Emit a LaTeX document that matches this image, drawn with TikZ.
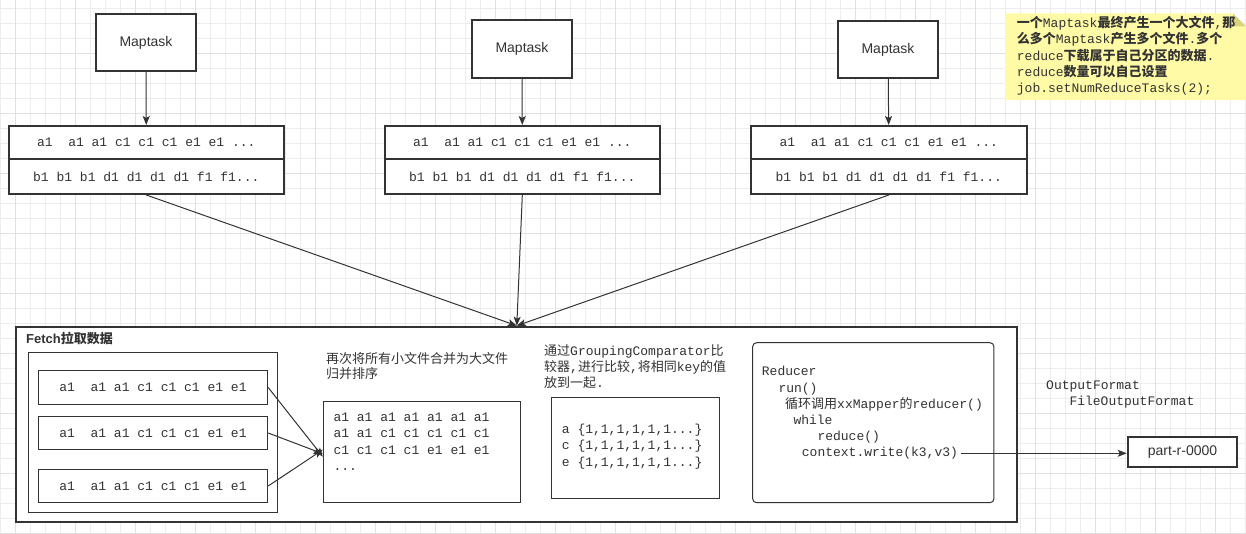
\documentclass[tikz,border=0pt]{standalone}
\usepackage{fontspec}
\setmainfont{Liberation Sans}
\newfontfamily\mono{Liberation Mono}
\newfontfamily\cjk{Noto Sans CJK SC}
\usetikzlibrary{arrows.meta}

\definecolor{linec}{HTML}{333333}
\definecolor{textc}{HTML}{333333}
\definecolor{gridc}{HTML}{EDEDED}
\definecolor{gridm}{HTML}{E0E0E0}
\definecolor{notefill}{HTML}{FFFAA6}
\definecolor{notefold}{HTML}{D9D37E}

\newcommand\zh[1]{{\cjk #1}}
\newcommand\zhb[1]{{\cjk\bfseries #1}}

\tikzset{
  box/.style={draw=linec, fill=white, line width=1pt, inner sep=0pt},
  thickbox/.style={box, line width=2pt},
  taskbox/.style={thickbox, minimum width=100pt, minimum height=57.5pt, font=\fontsize{14}{16}\selectfont},
  rowbox/.style={thickbox, minimum width=275.5pt, font=\mono\fontsize{13}{15}\selectfont},
  smallbox/.style={box, minimum width=229.4pt, font=\mono\fontsize{13}{15}\selectfont},
  flow/.style={linec, line width=1pt, -{Stealth[length=9pt,width=7pt,inset=2pt]}},
  mtext/.style={anchor=west, inner sep=0pt, text height=9pt, text depth=2.5pt, font=\mono\fontsize{13}{15}\selectfont},
  ztext/.style={mtext, font=\cjk\fontsize{13}{15}\selectfont},
  gridminor/.style={gridc, line width=1pt},
  gridmajor/.style={gridm, line width=1pt}
}

\begin{document}
\begin{tikzpicture}[x=1pt,y=1pt,yscale=-1,every node/.append style={text=textc}]
    \useasboundingbox (0,0) rectangle (1246,534);

    %Grid
    \foreach \gx in {0,15,...,1245} \draw[gridminor] (\gx,0) -- (\gx,534);
    \foreach \gy in {8.3,23.3,...,533.3} \draw[gridminor] (0,\gy) -- (1246,\gy);
    \foreach \gx in {15,75,...,1215} \draw[gridmajor] (\gx,0) -- (\gx,534);
    \foreach \gy in {53.3,113.3,...,533.3} \draw[gridmajor] (0,\gy) -- (1246,\gy);

    %Shape: Maptask
    \node[taskbox] (m1) at (146,42.5) {Maptask};
    \node[taskbox] (m2) at (522,49) {Maptask};
    \node[taskbox] (m3) at (888,49.5) {Maptask};

    %Shape: Map output rows
    \node[rowbox, minimum height=33pt] (d1a) at (146.3,142.5) {a1~~a1 a1 c1 c1 c1 e1 e1 ...};
    \node[rowbox, minimum height=35pt] (d1b) at (146.3,176.5) {b1 b1 b1 d1 d1 d1 d1 f1 f1...};
    \node[rowbox, minimum height=33pt] (d2a) at (522.3,142.5) {a1~~a1 a1 c1 c1 c1 e1 e1 ...};
    \node[rowbox, minimum height=35pt] (d2b) at (522.3,176.5) {b1 b1 b1 d1 d1 d1 d1 f1 f1...};
    \node[rowbox, minimum height=33pt] (d3a) at (888.8,142.5) {a1~~a1 a1 c1 c1 c1 e1 e1 ...};
    \node[rowbox, minimum height=35pt] (d3b) at (888.8,176.5) {b1 b1 b1 d1 d1 d1 d1 f1 f1...};

    %Shape: Note
    \fill[notefill] (1005,13.3) -- (1233,13.3) -- (1246,26.3) -- (1246,100) -- (1005,100) -- cycle;
    \fill[notefold] (1233,13.3) -- (1246,26.3) -- (1233,26.3) -- cycle;
    % Text Node
    \node[mtext] (n1) at (1016.7,24.3) {\zhb{一个}Maptask\zhb{最终产生一个大文件},\zhb{那}};
    \node[mtext] (n2) at (1016.7,40.6) {\zhb{么多个}Maptask\zhb{产生多个文件}.\zhb{多个}};
    \node[mtext] (n3) at (1016.7,56.9) {reduce\zhb{下载属于自己分区的数据}.};
    \node[mtext] (n4) at (1016.7,73.2) {reduce\zhb{数量可以自己设置}};
    \node[mtext] (n5) at (1016.7,89.5) {job.setNumReduceTasks(2);};

    %Shape: Fetch
    \node[thickbox, minimum width=1001pt, minimum height=195pt] (fetch) at (516.8,424.2) {};
    \node[anchor=west, inner sep=0pt, font=\bfseries\fontsize{13}{15}\selectfont] (fetchlbl) at (26,338.3) {Fetch\zh{拉取数据}};

    %Shape: Fetched files
    \node[box, minimum width=249pt, minimum height=160pt] (files) at (152.8,432.3) {};
    \node[smallbox, minimum height=33.6pt] (s1) at (153,387.5) {a1~~a1 a1 c1 c1 c1 e1 e1~};
    \node[smallbox, minimum height=32.6pt] (s2) at (153,433) {a1~~a1 a1 c1 c1 c1 e1 e1~};
    \node[smallbox, minimum height=33.4pt] (s3) at (153,486) {a1~~a1 a1 c1 c1 c1 e1 e1~};

    %Shape: Merge
    \node[box, minimum width=197.4pt, minimum height=101.3pt] (merge) at (422,451.7) {};
    % Text Node
    \node[ztext] (mlbl1) at (326,360.7) {再次将所有小文件合并为大文件};
    \node[ztext] (mlbl2) at (326,375.7) {归并排序};
    \node[mtext] (mt1) at (333.3,418.3) {a1 a1 a1 a1 a1 a1 a1};
    \node[mtext] (mt2) at (333.3,434.6) {a1 a1 c1 c1 c1 c1 c1};
    \node[mtext] (mt3) at (333.3,450.9) {c1 c1 c1 c1 e1 e1 e1};
    \node[mtext] (mt4) at (333.3,467.2) {...};

    %Shape: Grouping
    \node[box, minimum width=168pt, minimum height=100.6pt] (group) at (635,448) {};
    % Text Node
    \node[mtext] (glbl1) at (544,352.7) {\zh{通过}GroupingComparator\zh{比}};
    \node[mtext] (glbl2) at (544,368.3) {\zh{较器},\zh{进行比较},\zh{将相同}key\zh{的值}};
    \node[mtext] (glbl3) at (544,384) {\zh{放到一起}.};
    \node[mtext] (gt1) at (561.7,430) {a \{1,1,1,1,1,1...\}};
    \node[mtext] (gt2) at (561.7,446.7) {c \{1,1,1,1,1,1...\}};
    \node[mtext] (gt3) at (561.7,463.4) {e \{1,1,1,1,1,1...\}};

    %Shape: Reducer
    \node[box, rounded corners=4pt, minimum width=241.3pt, minimum height=160pt] (reducer) at (873.3,422.7) {};
    % Text Node
    \node[mtext] (r1) at (761.7,372.7) {Reducer};
    \node[mtext] (r2) at (778.3,388.8) {run()};
    \node[mtext] (r3) at (785,405) {\zh{循环调用}xxMapper\zh{的}reducer()};
    \node[mtext] (r4) at (793.3,420.9) {while};
    \node[mtext] (r5) at (817.3,437.1) {reduce()};
    \node[mtext] (ctx) at (801.7,453.3) {context.write(k3,v3)};

    %Shape: Output
    \node[thickbox, minimum width=109.6pt, minimum height=30.7pt, font=\fontsize{14}{16}\selectfont] (part) at (1182.5,452) {part-r-0000};
    % Text Node
    \node[mtext] (of1) at (1046,386.7) {OutputFormat};
    \node[mtext] (of2) at (1069.3,402) {FileOutputFormat};

    %Straight Lines
    \draw[flow] (m1) -- (d1a);
    \draw[flow] (m2) -- (d2a);
    \draw[flow] (m3) -- (d3a);
    \draw[flow] (d1b.south) -- (fetch.north);
    \draw[flow] (d2b.south) -- (fetch.north);
    \draw[flow] (d3b.south) -- (fetch.north);
    \draw[flow] (s1.east) -- ([yshift=5pt]merge.west);
    \draw[flow] (s2.east) -- ([yshift=2pt]merge.west);
    \draw[flow] (s3.east) -- ([yshift=-2pt]merge.west);
    \draw[flow] ([xshift=3pt]ctx.east) -- (ctx.east -| part.west);

\end{tikzpicture}
\end{document}
